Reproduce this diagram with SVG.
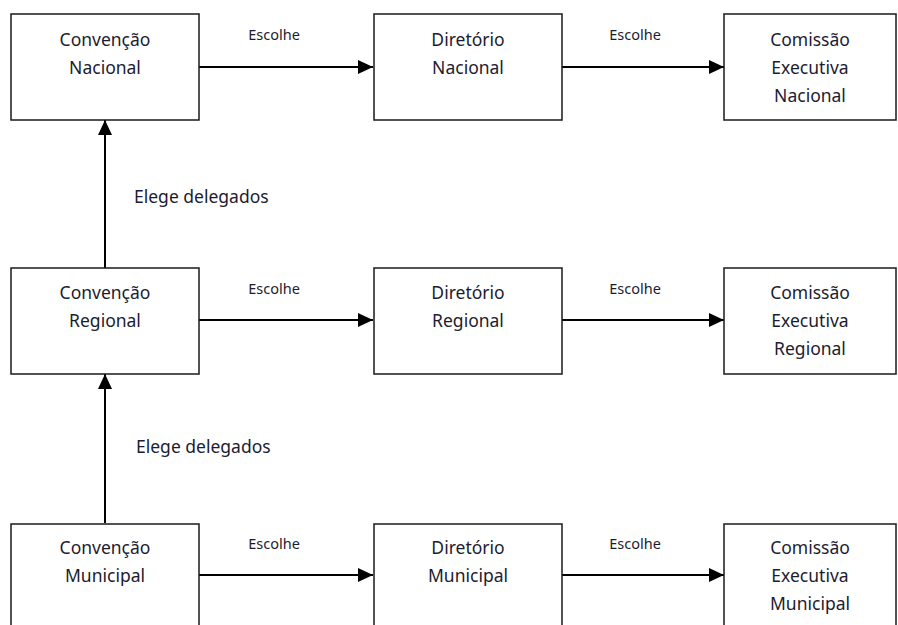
<svg xmlns="http://www.w3.org/2000/svg" width="898" height="625" viewBox="0 0 898 625">
<style>
.box{fill:#fff;stroke:#1a1a1a;stroke-width:1.5}
.t{font-family:"Noto Sans","Open Sans",sans-serif;font-size:17.5px;fill:#1c1c30;text-anchor:middle}
.s{font-family:"Noto Sans","Open Sans",sans-serif;font-size:14.5px;fill:#1c1c30;text-anchor:middle}
.e{font-family:"Noto Sans","Open Sans",sans-serif;font-size:17.5px;fill:#1c1c30}
.c{stroke:#000;stroke-width:2;fill:none;marker-end:url(#ah)}
</style>
<defs>
<marker id="ah" markerWidth="15" markerHeight="14" refX="15" refY="7" orient="auto" markerUnits="userSpaceOnUse" viewBox="0 0 15 14">
<path d="M0,0 L15,7 L0,14 Z" fill="#000"/>
</marker>
</defs>
<rect width="898" height="625" fill="#fff"/>
<g id="connectors">
<line class="c" x1="199" y1="67" x2="373" y2="67"/>
<line class="c" x1="560" y1="67" x2="724" y2="67"/>
<line class="c" x1="199" y1="320" x2="373" y2="320"/>
<line class="c" x1="560" y1="320" x2="724" y2="320"/>
<line class="c" x1="199" y1="575" x2="373" y2="575"/>
<line class="c" x1="560" y1="575" x2="724" y2="575"/>
<line class="c" x1="105" y1="268" x2="105" y2="120"/>
<line class="c" x1="105" y1="523" x2="105" y2="374"/>
<text class="s" x="274" y="40">Escolhe</text>
<text class="s" x="635" y="40">Escolhe</text>
<text class="s" x="274" y="294">Escolhe</text>
<text class="s" x="635" y="294">Escolhe</text>
<text class="s" x="274" y="549">Escolhe</text>
<text class="s" x="635" y="549">Escolhe</text>
<text class="e" x="134" y="203">Elege delegados</text>
<text class="e" x="136" y="453">Elege delegados</text>
</g>
<g id="conv-nacional"><rect class="box" x="11" y="14" width="188" height="106"/><text class="t" x="105" y="46">Convenção</text><text class="t" x="105" y="74">Nacional</text></g>
<g id="dir-nacional"><rect class="box" x="374" y="14" width="188" height="106"/><text class="t" x="468" y="46">Diretório</text><text class="t" x="468" y="74">Nacional</text></g>
<g id="com-nacional"><rect class="box" x="724" y="14" width="172" height="106"/><text class="t" x="810" y="46">Comissão</text><text class="t" x="810" y="74">Executiva</text><text class="t" x="810" y="102">Nacional</text></g>
<g id="conv-regional"><rect class="box" x="11" y="268" width="188" height="106"/><text class="t" x="105" y="299">Convenção</text><text class="t" x="105" y="327">Regional</text></g>
<g id="dir-regional"><rect class="box" x="374" y="268" width="188" height="106"/><text class="t" x="468" y="299">Diretório</text><text class="t" x="468" y="327">Regional</text></g>
<g id="com-regional"><rect class="box" x="724" y="268" width="172" height="106"/><text class="t" x="810" y="299">Comissão</text><text class="t" x="810" y="327">Executiva</text><text class="t" x="810" y="355">Regional</text></g>
<g id="conv-municipal"><rect class="box" x="11" y="524" width="188" height="110"/><text class="t" x="105" y="554">Convenção</text><text class="t" x="105" y="582">Municipal</text></g>
<g id="dir-municipal"><rect class="box" x="374" y="524" width="188" height="110"/><text class="t" x="468" y="554">Diretório</text><text class="t" x="468" y="582">Municipal</text></g>
<g id="com-municipal"><rect class="box" x="724" y="524" width="172" height="110"/><text class="t" x="810" y="554">Comissão</text><text class="t" x="810" y="582">Executiva</text><text class="t" x="810" y="610">Municipal</text></g>
</svg>
